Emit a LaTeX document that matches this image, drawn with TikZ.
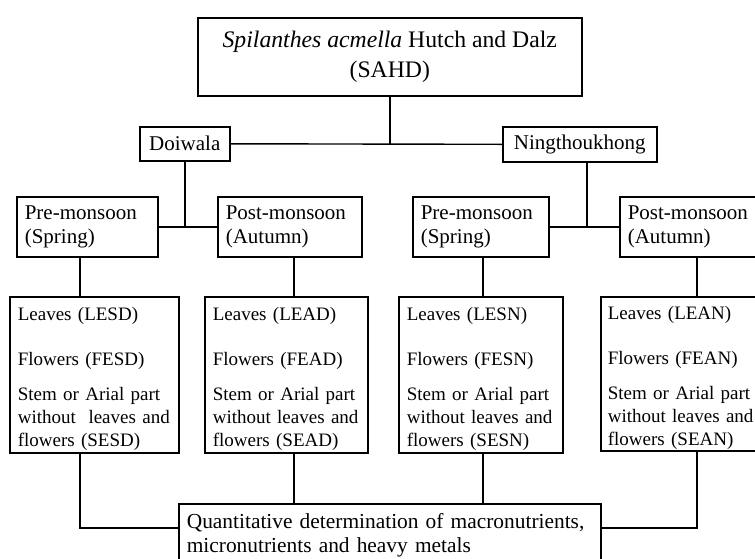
\documentclass[tikz,border=0pt]{standalone}
\usepackage{fontspec}
\setmainfont{Liberation Serif}
\begin{document}
\begin{tikzpicture}[x=1pt,y=-1pt,
  box/.style={draw, line width=1.6pt, inner sep=0pt, font=\fontsize{19}{23}\selectfont},
  lbox/.style={box, anchor=north west, align=left, inner xsep=8pt},
  cbox/.style={box, anchor=north west, align=center},
  midfont/.style={font=\fontsize{21}{24}\selectfont},
  thinc/.style={line width=1.4pt},
  thickc/.style={line width=2.6pt}]
\useasboundingbox (0,0) rectangle (755,558);
\clip (0,0) rectangle (755,558);
% boxes
\node[cbox, font=\fontsize{23.7}{30}\selectfont, minimum width=384pt, minimum height=78pt] (top) at (197,17)
  {\textit{Spilanthes acmella} Hutch and Dalz\\(SAHD)};
\node[cbox, midfont, minimum width=90pt, minimum height=34pt] (dw) at (139,126) {Doiwala};
\node[cbox, midfont, minimum width=154pt, minimum height=35pt] (nk) at (502,126) {Ningthoukhong};
\node[lbox, midfont, text width=125pt, minimum height=60pt] (preD) at (16,196) {Pre-monsoon\\(Spring)};
\node[lbox, midfont, text width=128pt, minimum height=60pt] (postD) at (217,196) {Post-monsoon\\(Autumn)};
\node[lbox, midfont, text width=120pt, minimum height=60pt] (preN) at (412,196) {Pre-monsoon\\(Spring)};
\node[lbox, midfont, text width=134pt, minimum height=60pt] (postN) at (619,196) {Post-monsoon\\(Autumn)};
\node[lbox, text width=153pt, minimum height=156pt] (lesd) at (9,296)
  {\rule{0pt}{22pt}Leaves (LESD)\\[22pt]Flowers (FESD)\\[12pt]Stem or Arial part\\without\ \ leaves and\\flowers (SESD)};
\node[lbox, text width=147pt, minimum height=156pt] (lead) at (204,296)
  {\rule{0pt}{22pt}Leaves (LEAD)\\[22pt]Flowers (FEAD)\\[12pt]Stem or Arial part\\without leaves and\\flowers (SEAD)};
\node[lbox, text width=148pt, minimum height=156pt] (lesn) at (398,296)
  {\rule{0pt}{22pt}Leaves (LESN)\\[22pt]Flowers (FESN)\\[12pt]Stem or Arial part\\without leaves and\\flowers (SESN)};
\node[lbox, inner xsep=7pt, text width=160pt, minimum height=154pt] (lean) at (600,296)
  {\rule{0pt}{22pt}Leaves (LEAN)\\[22pt]Flowers (FEAN)\\[12pt]Stem or Arial part\\without leaves and\\flowers (SEAN)};
\node[lbox, font=\fontsize{21.4}{24}\selectfont, text width=406pt, minimum height=62pt] (bot) at (178,503)
  {Quantitative determination of macronutrients,\\micronutrients and heavy metals};
% helper coordinates
\coordinate (x80) at (80,0);
\coordinate (x294) at (294,0);
\coordinate (x483) at (483,0);
\coordinate (x587) at (587,0);
\coordinate (x697) at (697,0);
\coordinate (y528) at (0,528);
% connectors
\draw[thickc] (top.south) -- (top.south |- dw.east);
\draw[thinc] (dw.east) -- (nk.west);
\draw[thinc] (preD.east) -- (postD.west);
\draw[thickc] (dw.south) -- (dw.south |- preD.east) -- (postD.west);
\draw[thinc] (preN.east) -- (postN.west);
\draw[thickc] (nk.south -| x587) -- (preN.east -| x587) -- (postN.west);
\draw[thinc] (preD.south -| x80) -- (lesd.north -| x80);
\draw[thinc] (postD.south -| x294) -- (lead.north -| x294);
\draw[thinc] (preN.south -| x483) -- (lesn.north -| x483);
\draw[thinc] (postN.south -| x697) -- (lean.north -| x697);
\draw[thickc] (lesd.south -| x80) |- (bot.west |- y528);
\draw[thinc] (lead.south -| x294) -- (bot.north -| x294);
\draw[thinc] (lesn.south -| x483) -- (bot.north -| x483);
\draw[thinc] (lean.south -| x697) |- (bot.east |- y528);
\end{tikzpicture}
\end{document}
